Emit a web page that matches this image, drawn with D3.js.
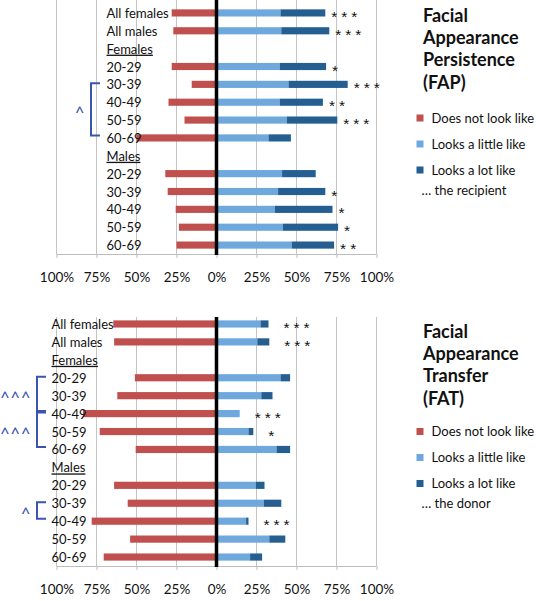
<!DOCTYPE html>
<html>
<head>
<meta charset="utf-8">
<script src="https://cdn.jsdelivr.net/npm/d3@7"></script>
<style>
  html, body { margin: 0; padding: 0; background: #fff; }
  svg { display: block; }
  text { font-family: Lato, "Open Sans", sans-serif; fill: #111; }
</style>
</head>
<body>
<svg id="chart" width="536" height="601"></svg>
<script>
// ---------- DATA ----------
const rowLabels = ["All females", "All males", "Females", "20-29", "30-39", "40-49", "50-59", "60-69",
                   "Males", "20-29", "30-39", "40-49", "50-59", "60-69"];
const headerRows = [2, 8];
const seriesNames = ["Does not look like", "Looks a little like", "Looks a lot like"];
const tickValues = [-100, -75, -50, -25, 0, 25, 50, 75, 100];

// Facial Appearance Persistence (FAP) — % ... the recipient
const fapNot    = [28, 27, null, 28, 15.5, 30, 20, 50, null, 32, 30.5, 25.5, 23.5, 25];
const fapLittle = [40, 40.5, null, 39.5, 45, 39.5, 44, 32.5, null, 41, 38.5, 36.5, 41.5, 47];
const fapLot    = [28, 30, null, 29, 37, 27, 31.5, 14, null, 21, 29.5, 36, 34.5, 26.5];
const fapStars  = ["***", "***", "", "*", "***", "**", "***", "", "", "", "*", "*", "*", "**"];
const fapBrackets = [{ from: 4, to: 7, mark: "^" }];

// Facial Appearance Transfer (FAT) — % ... the donor
const fatNot    = [64.5, 64, null, 51, 62, 83.5, 73, 50.5, null, 64, 55.5, 78, 54, 70.5];
const fatLittle = [27.5, 25.5, null, 40, 28, 14.5, 20, 37.5, null, 24.5, 29.5, 18.5, 33, 21];
const fatLot    = [5, 7.5, null, 6, 7, 0, 3, 8.5, null, 5.5, 11, 1.5, 10, 7.5];
const fatStars  = ["***", "***", "", "", "", "***", "*", "", "", "", "", "***", "", ""];
const fatBrackets = [{ from: 3, to: 5, mark: "^^^" }, { from: 5, to: 7, mark: "^^^" }, { from: 10, to: 11, mark: "^" }];

const colors = ["#C0504D", "#6FA8DC", "#255E91"];
const bracketColor = "#3B55AE";

// ---------- DRAW ----------
const svg = d3.select("#chart");

function drawPanel(cfg) {
  const g = svg.append("g");
  const x = d3.scaleLinear().domain([-100, 100]).range([56.5, 376.5]);
  const y = d3.scaleBand().domain(d3.range(rowLabels.length)).range([cfg.top, cfg.bottom]).paddingInner(0.6).paddingOuter(0.3);
  const yc = i => y(i) + y.bandwidth() / 2;

  // gridlines
  g.append("g").selectAll("line").data(tickValues.filter(d => d !== 0)).join("line")
    .attr("x1", d => x(d)).attr("x2", d => x(d))
    .attr("y1", cfg.gridTop).attr("y2", cfg.bottom)
    .attr("stroke", "#C4C4C4").attr("stroke-width", 1);

  // bottom axis
  const axis = g.append("g").attr("transform", `translate(0,${cfg.bottom})`)
    .call(d3.axisBottom(x).tickValues(tickValues).tickSize(4).tickPadding(14)
      .tickFormat(d => Math.abs(d) + "%"));
  axis.select(".domain").attr("stroke", "#BDBDBD").attr("d", `M${x(-100)},0.5H${x(100)}`);
  axis.selectAll(".tick line").attr("stroke", "#BDBDBD");
  axis.selectAll(".tick text").attr("font-size", 13.5).attr("font-family", "Lato, sans-serif").attr("fill", "#111");

  const idx = d3.range(rowLabels.length).filter(i => cfg.not[i] != null);
  // negative bars
  g.append("g").selectAll("rect").data(idx).join("rect")
    .attr("x", i => x(-cfg.not[i])).attr("width", i => x(0) - x(-cfg.not[i]))
    .attr("y", i => y(i)).attr("height", y.bandwidth()).attr("fill", colors[0]);
  // little
  g.append("g").selectAll("rect").data(idx).join("rect")
    .attr("x", x(0)).attr("width", i => x(cfg.little[i]) - x(0))
    .attr("y", i => y(i)).attr("height", y.bandwidth()).attr("fill", colors[1]);
  // lot
  g.append("g").selectAll("rect").data(idx.filter(i => cfg.lot[i] > 0)).join("rect")
    .attr("x", i => x(cfg.little[i])).attr("width", i => x(cfg.little[i] + cfg.lot[i]) - x(cfg.little[i]))
    .attr("y", i => y(i)).attr("height", y.bandwidth()).attr("fill", colors[2]);

  // zero line
  g.append("line").attr("x1", x(0)).attr("x2", x(0)).attr("y1", cfg.gridTop).attr("y2", cfg.bottom + 1)
    .attr("stroke", "#000").attr("stroke-width", 3.5);

  // row labels
  g.append("g").selectAll("text").data(d3.range(rowLabels.length)).join("text")
    .attr("x", cfg.labelX).attr("y", i => yc(i) + 5)
    .attr("font-size", 13)
    .attr("text-decoration", i => headerRows.includes(i) ? "underline" : null)
    .text(i => rowLabels[i]);

  // significance stars
  g.append("g").selectAll("text").data(idx.filter(i => cfg.stars[i])).join("text")
    .attr("x", i => x(cfg.little[i] + cfg.lot[i]) + cfg.starGap)
    .attr("y", i => yc(i) + 9)
    .attr("font-size", 15.5).attr("letter-spacing", 4)
    .style("font-family", "'Liberation Sans', Arial, sans-serif")
    .style("fill", "#111")
    .text(i => cfg.stars[i]);

  // brackets
  const bg = g.append("g");
  cfg.brackets.forEach(b => {
    const t = yc(b.from) - 1, bt = yc(b.to) - 2.5;
    bg.append("path")
      .attr("d", `M${cfg.bracketX + 9},${t}H${cfg.bracketX}V${bt}H${cfg.bracketX + 9}`)
      .attr("fill", "none").attr("stroke", bracketColor).attr("stroke-width", 2);
    bg.append("text").attr("x", cfg.bracketX - 6).attr("y", (t + bt) / 2 + 10)
      .attr("text-anchor", "end").attr("font-size", 17).attr("letter-spacing", 0.5)
      .style("fill", bracketColor).text(b.mark);
  });

  // title
  const tg = g.append("g");
  cfg.title.forEach((line, k) => {
    tg.append("text").attr("x", 423).attr("y", cfg.titleY + k * 22.2)
      .attr("font-size", 18).attr("font-weight", "bold").text(line);
  });
  // legend
  const lg = g.append("g");
  seriesNames.forEach((s, k) => {
    const cy = cfg.legendY + k * 26;
    lg.append("rect").attr("x", 416.5).attr("y", cy - 3.5).attr("width", 7).attr("height", 7).attr("fill", colors[k]);
    lg.append("text").attr("x", 431.5).attr("y", cy + 4.5).attr("font-size", 13).text(s);
  });
  lg.append("text").attr("x", 421.5).attr("y", cfg.legendY + 3 * 26 - 6 + 4.5).attr("font-size", 13).text(cfg.who);
}

drawPanel({
  top: 4, bottom: 254, gridTop: 0, labelX: 106.5, bracketX: 91,
  not: fapNot, little: fapLittle, lot: fapLot, stars: fapStars, brackets: fapBrackets, starGap: 6,
  title: ["Facial", "Appearance", "Persistence", "(FAP)"], titleY: 22,
  legendY: 118, who: "\u2026 the recipient"
});

drawPanel({
  top: 315, bottom: 566, gridTop: 317, labelX: 51.5, bracketX: 37,
  not: fatNot, little: fatLittle, lot: fatLot, stars: fatStars, brackets: fatBrackets, starGap: 15,
  title: ["Facial", "Appearance", "Transfer", "(FAT)"], titleY: 338,
  legendY: 431.5, who: "\u2026 the donor"
});
</script>
</body>
</html>
